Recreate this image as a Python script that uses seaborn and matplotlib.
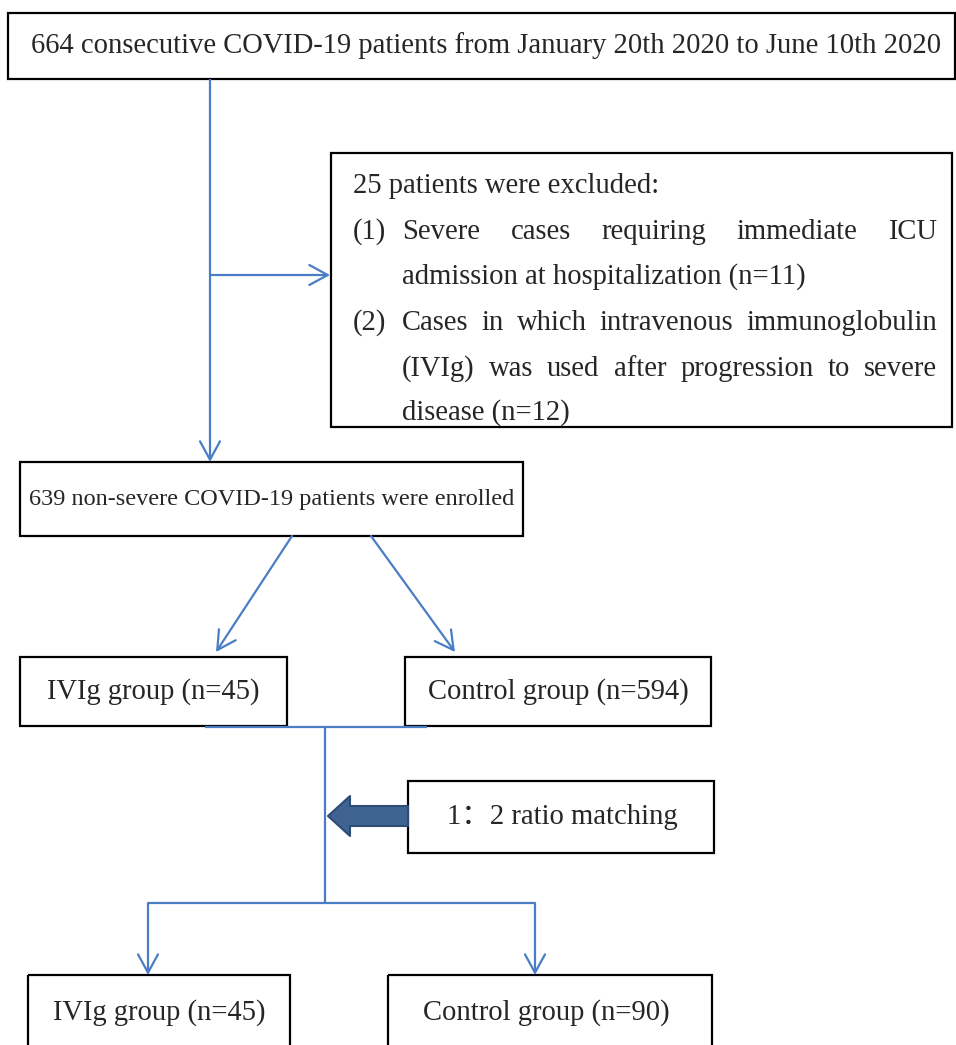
import matplotlib
matplotlib.use("Agg")
import matplotlib.pyplot as plt
import seaborn as sns
from matplotlib.patches import Rectangle, FancyArrow

sns.set_style("white")
plt.rcParams['font.family'] = ['Liberation Serif', 'Noto Sans CJK SC', 'DejaVu Sans']

# counts shown in the flow chart
n_total = 664
n_excluded = 25
n_icu = 11
n_ivig_late = 12
n_enrolled = 639
n_ivig = 45
n_control = 594
n_ivig_matched = 45
n_control_matched = 90

blue = '#4a7ec4'
fs = 20.6

fig = plt.figure(figsize=(9.56, 10.45), dpi=100)
ax = fig.add_axes([0, 0, 1, 1])
ax.set_xlim(0, 956)
ax.set_ylim(1045, 0)
ax.axis('off')


def box(x0, y0, x1, y1, text=None, tx=None, size=fs):
    ax.add_patch(Rectangle((x0, y0), x1 - x0, y1 - y0, fill=False, ec='black', lw=1.6))
    if text:
        ax.text(tx if tx else (x0 + x1) / 2, (y0 + y1) / 2, text, ha='center', va='center', fontsize=size)


def arrow(x0, y0, x1, y1):
    ax.annotate("", xy=(x1, y1), xytext=(x0, y0),
                arrowprops=dict(arrowstyle="->,head_length=1.1,head_width=0.6", mutation_scale=12,
                                color=blue, lw=1.6, shrinkA=0, shrinkB=0))


def line(xs, ys):
    ax.plot(xs, ys, color=blue, lw=1.6, solid_capstyle='butt')


# boxes
box(8, 13, 955, 79, f"{n_total} consecutive COVID-19 patients from January 20th 2020 to June 10th 2020", tx=486)
box(331, 153, 952, 427)
box(20, 462, 523, 536, f"{n_enrolled} non-severe COVID-19 patients were enrolled", tx=272, size=17.5)
box(20, 657, 287, 726, f"IVIg group (n={n_ivig})", tx=153)
box(405, 657, 711, 726, f"Control group (n={n_control})", tx=558)
box(408, 781, 714, 853, "1：2 ratio matching", tx=562)
box(28, 975, 290, 1080)
box(388, 975, 712, 1080)
ax.text(159, 1013, f"IVIg group (n={n_ivig_matched})", ha='center', va='center', fontsize=fs)
ax.text(546, 1013, f"Control group (n={n_control_matched})", ha='center', va='center', fontsize=fs)

# exclusion text (justified lines)
fig.canvas.draw()
renderer = fig.canvas.get_renderer()


def width(s):
    t = ax.text(0, 0, s, fontsize=fs)
    bb = t.get_window_extent(renderer)
    t.remove()
    return bb.width


def justified(words, x0, x1, y):
    ws = [width(w) for w in words]
    gap = (x1 - x0 - sum(ws)) / (len(words) - 1)
    x = x0
    for w, wd in zip(words, ws):
        ax.text(x, y, w, ha='left', va='center', fontsize=fs)
        x += wd + gap


lx, ix, rx = 353, 402, 937
ax.text(lx, 186, f"{n_excluded} patients were excluded:", ha='left', va='center', fontsize=fs)
ax.text(lx, 232, "(1)", ha='left', va='center', fontsize=fs)
justified("Severe cases requiring immediate ICU".split(), ix, rx, 232)
ax.text(ix, 277, f"admission at hospitalization (n={n_icu})", ha='left', va='center', fontsize=fs)
ax.text(lx, 323, "(2)", ha='left', va='center', fontsize=fs)
justified("Cases in which intravenous immunoglobulin".split(), ix, rx, 323)
justified("(IVIg) was used after progression to severe".split(), ix, rx, 369)
ax.text(ix, 413, f"disease (n={n_ivig_late})", ha='left', va='center', fontsize=fs)

# connectors
line([210, 210], [79, 300])
arrow(210, 300, 210, 462)
arrow(210, 275, 330, 275)
arrow(292, 536, 216, 652)
arrow(371, 536, 455, 652)
line([205, 427], [727, 727])
line([325, 325], [727, 903])
line([148, 535], [903, 903])
arrow(148, 903, 148, 975)
arrow(535, 903, 535, 975)

# thick matching arrow
ax.add_patch(FancyArrow(408, 816, -80, 0, width=20, head_width=40, head_length=22,
                        length_includes_head=True, fc='#3f6391', ec='#2d4d78', lw=1.5,
                        joinstyle='round'))

fig.savefig('out.png', dpi=100)
